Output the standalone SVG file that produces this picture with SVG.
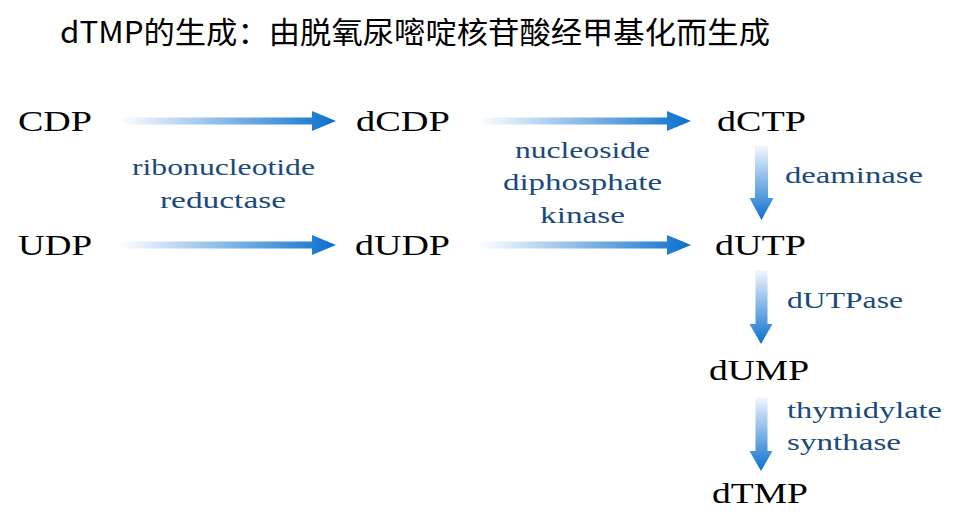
<svg xmlns="http://www.w3.org/2000/svg" width="962" height="520" viewBox="0 0 962 520">
<defs>
<linearGradient id="gh" x1="0" y1="0" x2="1" y2="0">
<stop offset="0" stop-color="#ffffff"/>
<stop offset="1" stop-color="#0a6fcf"/>
</linearGradient>
<linearGradient id="gv" x1="0" y1="0" x2="0" y2="1">
<stop offset="0" stop-color="#f2f7fd"/>
<stop offset="1" stop-color="#0a6fcf"/>
</linearGradient>
<style>
.n{font-family:"Liberation Serif","DejaVu Serif",serif;font-size:29px;fill:#000}
.e{font-family:"Liberation Serif","DejaVu Serif",serif;font-size:24px;fill:#1a4a7c}
.t{font-family:"Noto Sans CJK SC","DejaVu Sans",sans-serif;font-size:30px;fill:#000}
.ah{fill:url(#gh)}
.av{fill:url(#gv)}
</style>
</defs>
<rect width="962" height="520" fill="#fff"/>
<text class="t" x="60" y="43" textLength="710" lengthAdjust="spacingAndGlyphs">dTMP的生成：由脱氧尿嘧啶核苷酸经甲基化而生成</text>
<g id="connectors">
<path class="ah" d="M118,117.5 H312 V111 L336,121 L312,131 V124.5 H118 Z"/>
<path class="ah" d="M118,241.5 H312 V235 L336,245 L312,255 V248.5 H118 Z"/>
<path class="ah" d="M478,117.5 H667 V111 L691,121 L667,131 V124.5 H478 Z"/>
<path class="ah" d="M478,241.5 H667 V235 L691,245 L667,255 V248.5 H478 Z"/>
<path class="av" d="M755,146 H768 V198 H773.5 L761.5,220 L749.5,198 H755 Z"/>
<path class="av" d="M755.5,270 H767.5 V324 H772.5 L761,344 L749.5,324 H755.5 Z"/>
<path class="av" d="M755.5,397 H767.5 V451 H772.5 L761,471 L749.5,451 H755.5 Z"/>
</g>
<g id="CDP"><text class="n" x="18" y="131" textLength="74" lengthAdjust="spacingAndGlyphs">CDP</text></g>
<g id="dCDP"><text class="n" x="356" y="131" textLength="94" lengthAdjust="spacingAndGlyphs">dCDP</text></g>
<g id="dCTP"><text class="n" x="717" y="131" textLength="89" lengthAdjust="spacingAndGlyphs">dCTP</text></g>
<g id="UDP"><text class="n" x="18" y="255" textLength="74" lengthAdjust="spacingAndGlyphs">UDP</text></g>
<g id="dUDP"><text class="n" x="355" y="255" textLength="95" lengthAdjust="spacingAndGlyphs">dUDP</text></g>
<g id="dUTP"><text class="n" x="715" y="255" textLength="91" lengthAdjust="spacingAndGlyphs">dUTP</text></g>
<g id="dUMP"><text class="n" x="709" y="380" textLength="100" lengthAdjust="spacingAndGlyphs">dUMP</text></g>
<g id="dTMP"><text class="n" x="712" y="503" textLength="96" lengthAdjust="spacingAndGlyphs">dTMP</text></g>
<g id="labels">
<text class="e" x="132" y="175" textLength="183" lengthAdjust="spacingAndGlyphs">ribonucleotide</text>
<text class="e" x="160" y="208" textLength="126" lengthAdjust="spacingAndGlyphs">reductase</text>
<text class="e" x="515" y="158" textLength="135" lengthAdjust="spacingAndGlyphs">nucleoside</text>
<text class="e" x="503" y="190" textLength="159" lengthAdjust="spacingAndGlyphs">diphosphate</text>
<text class="e" x="540" y="223" textLength="85" lengthAdjust="spacingAndGlyphs">kinase</text>
<text class="e" x="785" y="183" textLength="138" lengthAdjust="spacingAndGlyphs">deaminase</text>
<text class="e" x="787" y="308" textLength="116" lengthAdjust="spacingAndGlyphs">dUTPase</text>
<text class="e" x="787" y="418" textLength="155" lengthAdjust="spacingAndGlyphs">thymidylate</text>
<text class="e" x="787" y="450" textLength="114" lengthAdjust="spacingAndGlyphs">synthase</text>
</g>
</svg>
